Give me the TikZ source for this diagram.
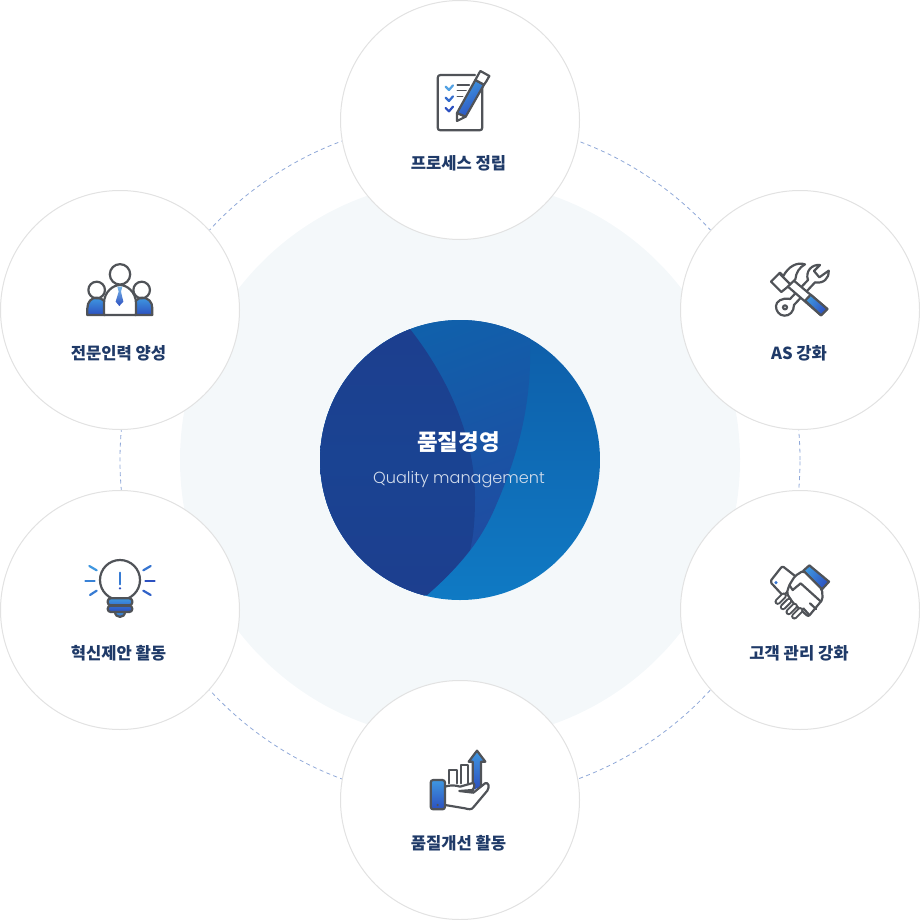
\documentclass[tikz,border=0pt]{standalone}
\usepackage{fontspec}
\usepackage{xcolor}
\newfontfamily\krfont{Noto Sans CJK KR}
\newfontfamily\popfont{Poppins}[UprightFont=* Light]
\usetikzlibrary{backgrounds,arrows.meta}
\definecolor{palebg}{HTML}{F4F8FA}
\definecolor{ringc}{HTML}{E2E2E2}
\definecolor{dashc}{HTML}{8FA8D8}
\definecolor{labelc}{HTML}{1F3A68}
\definecolor{subc}{HTML}{D3DDEC}
\definecolor{ico}{HTML}{505358}
\definecolor{gtop}{HTML}{3F97E0}
\definecolor{gbot}{HTML}{2C50C0}
\definecolor{baseT}{HTML}{0E5DA8}
\definecolor{baseB}{HTML}{0F7AC4}
\definecolor{darkA}{HTML}{1A4392}
\definecolor{darkB}{HTML}{1D3E8E}
\definecolor{midA}{HTML}{0F62AC}
\definecolor{midB}{HTML}{22489F}
\tikzset{
  x=1pt,y=-1pt,
  sat/.style={circle,draw=ringc,line width=1pt,fill=white,minimum size=239pt,inner sep=0pt},
  lab/.style={font=\krfont\bfseries\fontsize{16.6}{20}\selectfont,text=labelc,inner sep=0pt},
  link/.style={circle,draw=dashc,line width=.8pt,dash pattern=on 4pt off 3.4pt,minimum size=680pt,inner sep=0pt},
  ic/.style={draw=ico,line width=2.2pt,line join=round,line cap=round},
  icw/.style={ic,fill=white},
  blu/.style={line width=2.2pt,line cap=round,line join=round},
  zoomed/.style={shift={#1},x=.33333pt,y=-.33333pt},
}
\begin{document}
\begin{tikzpicture}
\useasboundingbox (0,0) rectangle (920,920);
\node[sat] (top) at (460,120) {};
\node[sat] (rt) at (800,310) {};
\node[sat] (rb) at (800,610) {};
\node[sat] (bot) at (460,800) {};
\node[sat] (lb) at (120,610) {};
\node[sat] (lt) at (120,310) {};
\begin{scope}[on background layer]
  \fill[palebg] (460,460) circle (280);
  \node[link] (ring) at (460,460) {};
\end{scope}
% centre disc
\begin{scope}
  \clip (460,460) circle (140);
  \shade[top color=baseT,bottom color=baseB] (320,320) rectangle (600,600);
  \shade[left color=midA,right color=midB,shading angle=20]
    (530,339) .. controls (532,400) and (520,450) .. (497,503)
    .. controls (480,545) and (455,570) .. (427,595) -- (300,610) -- (300,310) -- (530,310) -- cycle;
  \shade[top color=darkB,bottom color=darkB,middle color=darkA]
    (410,329) .. controls (450,380) and (475,440) .. (475,497)
    .. controls (475,515) and (474,535) .. (470,550)
    .. controls (456,568) and (442,582) .. (427,595) -- (300,610) -- (300,310) -- (400,310) -- cycle;
\end{scope}
\node[font=\krfont\bfseries\fontsize{22.4}{26}\selectfont,text=white,inner sep=0pt] (ttl) at (458.5,442.5) {품질경영};
\node[font=\popfont\fontsize{16.1}{19}\selectfont,text=subc,inner sep=0pt] (sub) at (459,480) {Quality management};
% labels
\node[lab] (l1) at (458.5,163.5) {프로세스 정립};
\node[lab] (l2) at (799,353.5) {AS 강화};
\node[lab] (l3) at (799,653.5) {고객 관리 강화};
\node[lab] (l4) at (458.5,843.5) {품질개선 활동};
\node[lab] (l5) at (118.5,653.5) {혁신제안 활동};
\node[lab] (l6) at (118.5,353.5) {전문인력 양성};
% icon 1: checklist
\begin{scope}[zoomed={(400,50)}]
  \draw[icw] (225,75) -- (122,75) .. controls (116,75) and (113,78) .. (113,84) -- (113,232) .. controls (113,238) and (116,241) .. (122,241) -- (238,241) .. controls (244,241) and (247,238) .. (247,232) -- (247,110);
  \draw[ic,line width=1.6pt] (172,105) -- (208,105) (172,122) -- (198,122) (172,140) -- (188,140);
  \draw[blu,draw=gtop!90!white] (137,110) -- (147,120) -- (159,106);
  \draw[blu,draw=gtop!40!gbot] (137,143) -- (147,153) -- (159,139);
  \draw[blu,draw=gbot] (137,174) -- (147,184) -- (159,170);
  \draw[white,line width=5pt] (190,180) -- (250,75);
  \draw[ic,fill=white] (171,189) -- (171,213) -- (197,200) -- cycle;
  \draw[ic,top color=gtop,bottom color=gbot,shading angle=30] (171,189) -- (226,90) -- (252,104) -- (197,200) -- cycle;
  \draw[icw] (232,79) -- (241,63) -- (268,78) -- (259,94) -- (252,104) -- (226,90) -- cycle;
\end{scope}
% icon 2: tools
\begin{scope}[zoomed={(740,240)}]
  \draw[icw] (150,177) -- (204,120) .. controls (195,95) and (215,72) .. (240,75) -- (222,93) -- (238,112) -- (266,92) .. controls (268,115) and (250,132) .. (225,127) -- (162,195) .. controls (162,215) and (148,228) .. (133,227) .. controls (118,227) and (107,212) .. (108,198) .. controls (108,185) and (125,172) .. (150,177) -- cycle;
  \draw[ic] (135,202) circle (6);
  \draw[icw] (150,112) -- (262,207) -- (243,226) -- (130,128) -- cycle;
  \draw[ic,top color=gtop,bottom color=gbot,shading angle=60] (212,164) -- (262,207) -- (243,226) -- (195,182) -- cycle;
  \draw[icw] (93,125) -- (120,98) -- (130,108) .. controls (145,80) and (170,65) .. (195,73) .. controls (178,82) and (168,98) .. (166,118) -- (140,143) -- (124,156) -- cycle;
  \draw[ic] (118,100) -- (148,130);
\end{scope}
% icon 3: handshake
\begin{scope}[zoomed={(740,540)}]
  \draw[icw,rounded corners=2pt] (90,125) -- (127,78) -- (178,118) -- (130,168) -- cycle;
  \draw[ic,top color=gtop,bottom color=gbot,shading angle=60] (190,92) -- (208,76) -- (267,125) -- (246,148) -- cycle;
  \draw[icw,rounded corners=2pt] (190,92) -- (246,148) -- (248,178) -- (205,230) -- (160,190) -- (140,160) -- (148,135) -- (165,108) -- cycle;
  \foreach \xx/\yy in {122/176,138/192,155/207,172/220}{
    \draw[ico,line width=6.4pt,line cap=round] (\xx-9,\yy+9) -- (\xx+9,\yy-9);
    \draw[white,line width=2.4pt,line cap=round] (\xx-9,\yy+9) -- (\xx+9,\yy-9);
  }
  \draw[ic] (148,135) -- (158,150) -- (182,130) -- (243,185);
  \draw[ic] (210,190) -- (228,207) (190,205) -- (207,224);
  \fill[gtop!50!gbot] (108,128) circle (1.7pt);
\end{scope}
% icon 4: hand + chart
\begin{scope}[zoomed={(400,730)}]
  \draw[ic] (148,160) -- (148,120) -- (170,120) -- (170,160) (183,160) -- (183,105) -- (205,105) -- (205,160);
  \draw[ic,top color=gtop,bottom color=gbot] (218,180) -- (218,95) -- (206,95) -- (231,62) -- (256,95) -- (243,95) -- (243,170);
  \draw[icw] (135,170) .. controls (150,165) and (165,165) .. (180,170) -- (215,160) .. controls (225,155) and (225,170) .. (218,180) -- (178,183) -- (220,188) -- (255,160) .. controls (265,155) and (270,170) .. (262,182) -- (220,232) .. controls (215,240) and (205,238) .. (195,235) -- (135,225);
  \draw[ic,top color=gtop,bottom color=gbot] (100,150) -- (127,150) .. controls (132,150) and (135,153) .. (135,158) -- (135,230) .. controls (135,235) and (132,238) .. (127,238) -- (100,238) .. controls (95,238) and (92,235) .. (92,230) -- (92,158) .. controls (92,153) and (95,150) .. (100,150) -- cycle;
  \fill[ico] (113,225) circle (1.2pt);
\end{scope}
% icon 5: bulb
\begin{scope}[zoomed={(60,540)}]
  \draw[icw] (180,120) circle (20pt);
  \draw[ic,top color=gtop,bottom color=gbot] (165,215) -- (195,215) .. controls (195,236) and (165,236) .. (165,215) -- cycle;
  \draw[ic,top color=gtop,bottom color=gtop!50!gbot,rounded corners=3pt] (143,175) rectangle (217,196);
  \draw[ic,top color=gtop!40!gbot,bottom color=gbot,rounded corners=3pt] (143,197) rectangle (217,216);
  \draw[blu,draw=gtop!60!gbot] (180,98) -- (180,133);
  \fill[gbot] (180,145) circle (1.3pt);
  \draw[blu,draw=gtop] (88,78) -- (110,91);
  \draw[blu,draw=gtop!70!gbot] (76,122) -- (104,122);
  \draw[blu,draw=gtop!60!gbot] (90,165) -- (110,152);
  \draw[blu,draw=gtop!50!gbot] (272,78) -- (250,91);
  \draw[blu,draw=gbot] (284,122) -- (256,122);
  \draw[blu,draw=gtop!25!gbot] (272,165) -- (250,152);
\end{scope}
% icon 6: people
\begin{scope}[zoomed={(60,240)}]
  \draw[ic,top color=gtop,bottom color=gbot] (82,225) -- (82,205) .. controls (82,185) and (95,173) .. (110,173) .. controls (120,173) and (128,178) .. (135,185) -- (135,225) -- cycle;
  \draw[ic,top color=gtop,bottom color=gbot] (277,225) -- (277,205) .. controls (277,185) and (265,173) .. (245,173) .. controls (238,173) and (232,178) .. (225,185) -- (225,225) -- cycle;
  \draw[ic] (110,150) circle (8.3pt);
  \draw[ic] (245,150) circle (8.3pt);
  \draw[icw] (132,225) -- (132,190) .. controls (132,155) and (160,135) .. (180,135) .. controls (200,135) and (228,155) .. (228,190) -- (228,225) -- cycle;
  \draw[icw] (180,103) circle (10.2pt);
  \shade[top color=gtop!70!white,bottom color=gbot] (172,140) -- (187,140) -- (183,155) -- (190,185) -- (178,198) -- (167,185) -- (176,155) -- cycle;
  \draw[ic] (82,225) -- (277,225);
\end{scope}
\end{tikzpicture}
\end{document}
